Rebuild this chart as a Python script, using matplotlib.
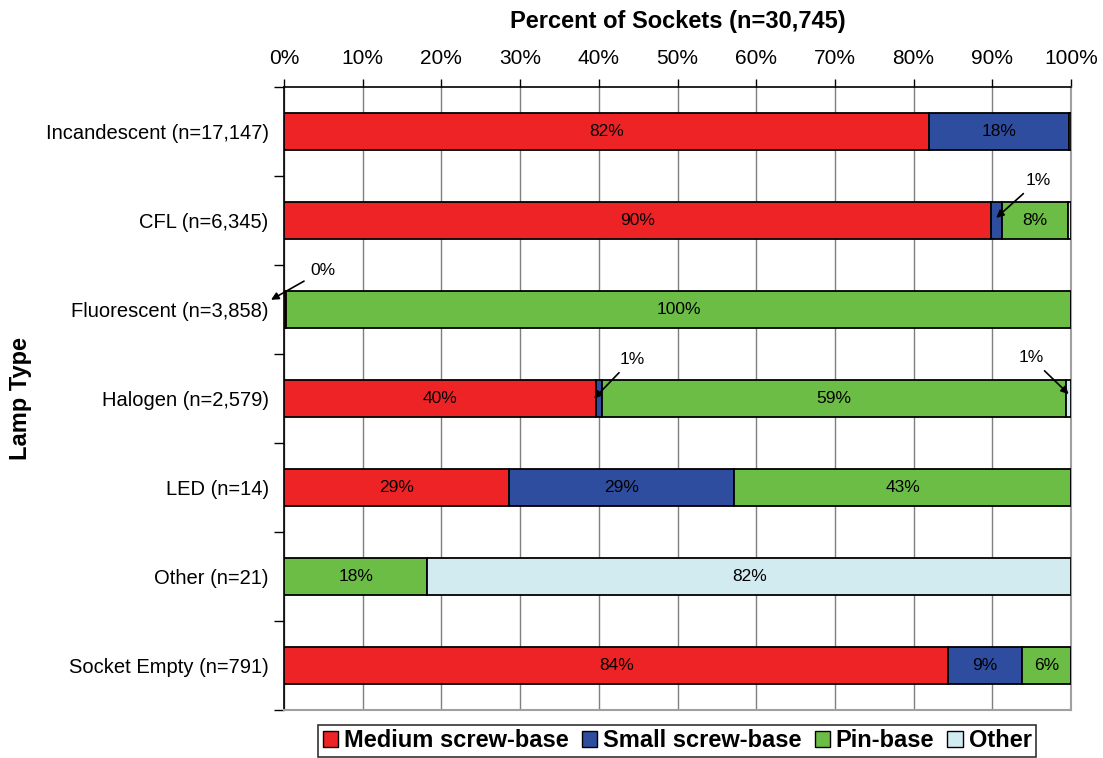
import matplotlib.pyplot as plt
import numpy as np
from matplotlib.patches import Patch

plt.rcParams["font.family"] = ["Liberation Sans", "DejaVu Sans"]

lamp_types = [
    "Incandescent (n=17,147)",
    "CFL (n=6,345)",
    "Fluorescent (n=3,858)",
    "Halogen (n=2,579)",
    "LED (n=14)",
    "Other (n=21)",
    "Socket Empty (n=791)",
]
series = ["Medium screw-base", "Small screw-base", "Pin-base", "Other"]
colors = ["#EE2326", "#2E4D9F", "#6BBD45", "#D2EBF1"]

# percent of sockets per lamp type
medium_screw = [82.0, 89.8, 0.3, 39.6, 28.6, 0.0, 84.4]
small_screw = [17.8, 1.4, 0.0, 0.8, 28.6, 0.0, 9.4]
pin_base = [0.0, 8.4, 99.7, 59.0, 42.8, 18.2, 6.2]
other = [0.2, 0.4, 0.0, 0.6, 0.0, 81.8, 0.0]

# small segments labelled with an arrow:
# (row, series index, text, text offset, arrow tip offset)
callouts = [
    (1, 1, "1%", (5.3, -0.45), (0.0, -0.03)),
    (2, 0, "0%", (4.8, -0.44), (-1.8, -0.11)),
    (3, 1, "1%", (4.2, -0.44), (-0.6, 0.0)),
    (3, 3, "1%", (-4.8, -0.46), (0.0, -0.05)),
]

data = np.array([medium_screw, small_screw, pin_base, other])
y = np.arange(len(lamp_types))

fig = plt.figure(figsize=(11.03, 7.58), dpi=100)
ax = fig.add_axes([0.2575, 0.0633, 0.7135, 0.8218])

left = np.zeros(len(lamp_types))
for i, vals in enumerate(data):
    ax.barh(y, vals, left=left, height=0.41, color=colors[i],
            edgecolor="black", linewidth=1.3, zorder=3)
    for j, v in enumerate(vals):
        if v >= 5:
            ax.text(left[j] + v / 2, y[j], f"{v:.0f}%", ha="center",
                    va="center", fontsize=12.5, zorder=4)
    left += vals

for row, s, txt, (dx, dy), (tx, ty) in callouts:
    start = data[:s, row].sum()
    xm = start + data[s, row] / 2
    ax.annotate(txt, xy=(xm + tx, y[row] + ty), xytext=(xm + dx, y[row] + dy),
                ha="center", va="center", fontsize=12.5, zorder=5,
                annotation_clip=False,
                arrowprops=dict(arrowstyle="-|>", color="black", lw=1.2,
                                shrinkA=3, shrinkB=0, mutation_scale=11))

ax.set_xlim(0, 100)
ax.set_ylim(len(lamp_types) - 0.5, -0.5)
ax.xaxis.tick_top()
ax.xaxis.set_label_position("top")
ax.set_xticks(np.arange(0, 101, 10))
ax.set_xticklabels([f"{t}%" for t in range(0, 101, 10)], fontsize=15)
ax.tick_params(axis="x", direction="out", length=6, width=1, pad=8)
ax.set_yticks(y)
ax.set_yticklabels(lamp_types, fontsize=14.5)
ax.tick_params(axis="y", which="major", length=0, pad=11)
ax.set_yticks(np.arange(-0.5, len(lamp_types)), minor=True)
ax.tick_params(axis="y", which="minor", direction="out", length=7, width=1)

ax.grid(axis="x", color="#7F7F7F", linewidth=1, zorder=0)
for side in ["top", "left"]:
    ax.spines[side].set_color("black")
    ax.spines[side].set_linewidth(1.2)
for side in ["bottom", "right"]:
    ax.spines[side].set_color("#A0A0A0")
    ax.spines[side].set_linewidth(1.5)

ax.set_xlabel("Percent of Sockets (n=30,745)", fontsize=17, fontweight="bold",
              labelpad=15)
ax.set_ylabel("Lamp Type", fontsize=17, fontweight="bold", labelpad=10)

handles = [Patch(facecolor=c, edgecolor="black", linewidth=1) for c in colors]
leg = fig.legend(handles, series, loc="lower center", ncol=4,
                 bbox_to_anchor=(0.614, -0.005), frameon=True, fancybox=False,
                 edgecolor="black", prop={"weight": "bold", "size": 17},
                 handlelength=0.65, handleheight=0.65, handletextpad=0.25,
                 columnspacing=0.55, borderpad=0.2, borderaxespad=0.2)
leg.get_frame().set_linewidth(1.2)

fig.savefig("out.png", dpi=100)
